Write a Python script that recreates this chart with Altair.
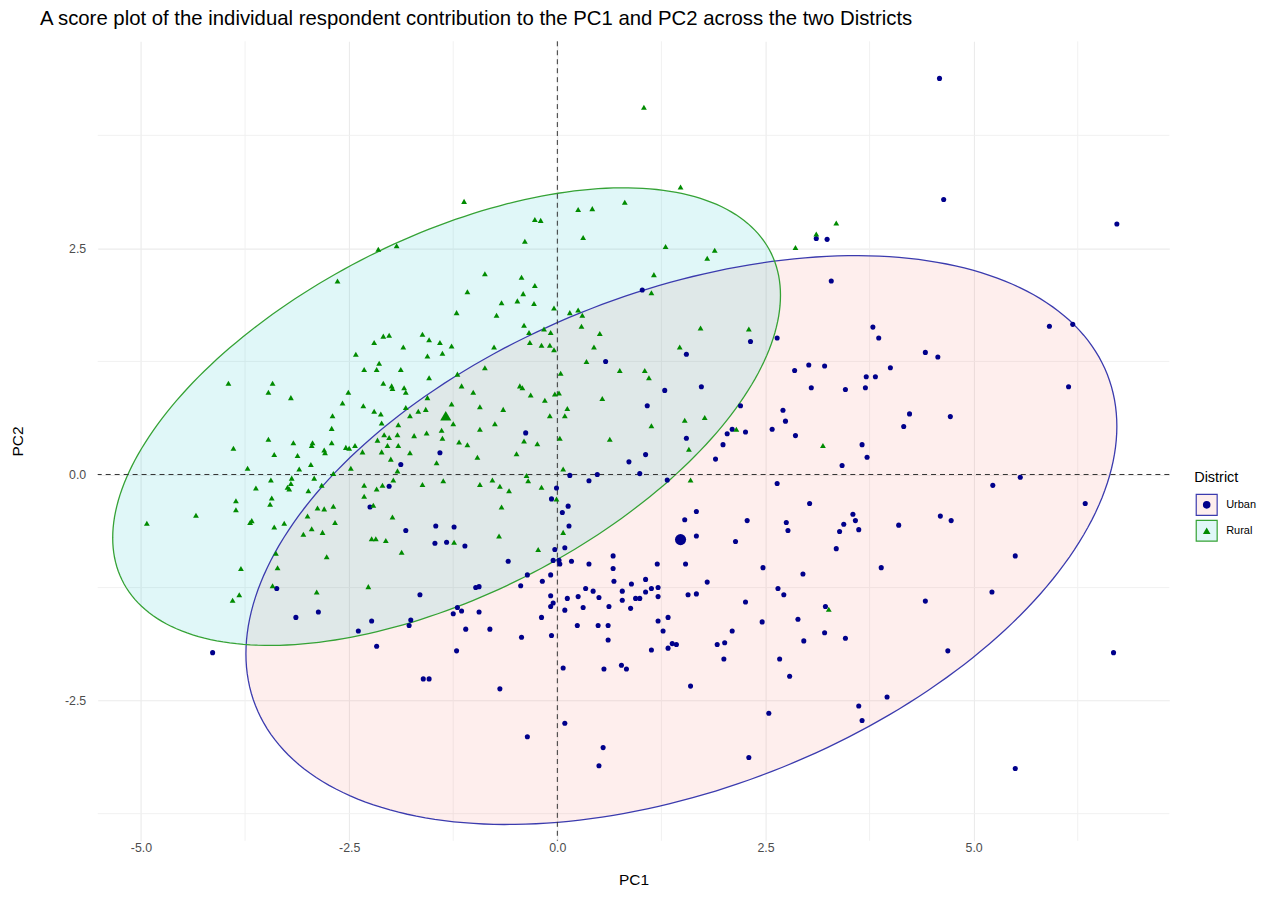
import altair as alt
import numpy as np
import pandas as pd

# ---------------- data ----------------
districts = ["Urban", "Rural"]

urban_x = [1.02, 3.11, 3.24, 3.29, 4.59, 4.64, 6.72,
           0.58, -0.38, -1.41, -1.88, -2.02, -2.25, 0.86, 0.15, 0.48, 0.38, -0.01, -0.07, 0.13, 0.06, 0.14,
           -1.82, -1.46, -1.24, -1.47, -1.33, -1.11, -0.03, 0.09, -0.59, -0.05, 0.02, 0.17, 0.38, 0.67, 0.67, 0.03,
           2.32, 2.64, 1.55, 1.73, 1.29, 1.08, 2.20, 3.79, 3.86, 3.02, 3.21, 2.85, 4.00, 3.71, 3.82, 3.05, 3.46, 3.70,
           2.71, 2.74, 2.58, 2.86, 2.26, 2.10, 2.04, 1.99, 1.90, 1.55, 1.06, 0.99, 1.32, 3.66, 3.72, 3.42, 4.16, 2.64,
           3.03, 1.67, 1.53, 2.28, 2.75, 2.77, 1.67, 2.14, 3.55, 3.44, 3.58, 3.62, 3.39, 3.35, 4.10, 1.20, 1.54, 2.47, 3.89,
           5.91, 6.19, 4.42, 4.57, 6.14, 4.23, 4.72, 5.23, 5.56, 6.34, 4.60, 4.73, 5.50,
           -3.37, -3.14, -2.87, -2.39, -4.14,
           -0.36, -0.08, -0.18, -0.44, -0.98, -0.94, -1.65, -0.08, -0.05, -0.08, -1.20, -1.25, -1.15, -0.94, -0.19,
           -1.76, -1.78, -2.23, -1.10, -0.81, -0.43, -0.07, -2.17, -1.21, -1.61, -1.54, -0.69, -0.36, 0.07, 0.09, 0.55,
           0.50, 0.56, 0.77, 0.83, 0.12, 0.09, 0.25, 0.34, 0.43, 0.50, 0.31, 0.62, 0.24, 0.49, 0.61, 0.61, 0.68, 0.89,
           0.78, 0.78, 0.88, 0.94,
           2.95, 1.06, 1.80, 1.06, 1.13, 1.21, 1.21, 0.99, 1.57, 1.67, 2.65, 2.72, 2.26, 3.22, 1.21, 1.33, 1.27, 2.46,
           2.89, 2.10, 3.21, 3.46, 2.96, 1.13, 1.33, 1.38, 1.43, 1.92, 2.01, 2.00, 2.67, 2.79, 1.60, 2.54, 2.30, 3.62,
           3.66, 3.96,
           4.42, 5.22, 4.69, 6.68, 5.50]
urban_y = [2.04, 2.61, 2.60, 2.14, 4.38, 3.04, 2.77,
           1.25, 0.46, 0.24, 0.11, -0.13, -0.36, 0.14, -0.01, 0.00, -0.07, -0.15, -0.27, -0.35, -0.42, -0.57,
           -0.62, -0.57, -0.58, -0.76, -0.75, -0.79, -0.83, -0.81, -0.96, -0.95, -0.95, -0.96, -0.99, -0.90, -1.04, -0.99,
           1.47, 1.51, 1.33, 0.97, 0.93, 0.76, 0.76, 1.63, 1.51, 1.21, 1.20, 1.15, 1.18, 1.08, 1.08, 0.96, 0.94, 0.96,
           0.71, 0.59, 0.50, 0.43, 0.47, 0.50, 0.45, 0.33, 0.17, 0.40, 0.22, 0.01, -0.06, 0.33, 0.19, 0.10, 0.53, -0.10,
           -0.32, -0.41, -0.50, -0.51, -0.53, -0.62, -0.68, -0.74, -0.44, -0.55, -0.51, -0.61, -0.63, -0.82, -0.56, -0.99,
           -0.99, -1.03, -1.03,
           1.64, 1.66, 1.35, 1.30, 0.97, 0.67, 0.64, -0.12, -0.03, -0.32, -0.46, -0.51, -0.90,
           -1.26, -1.58, -1.52, -1.73, -1.97,
           -1.11, -1.11, -1.18, -1.23, -1.25, -1.24, -1.33, -1.34, -1.42, -1.46, -1.47, -1.54, -1.51, -1.52, -1.58,
           -1.61, -1.67, -1.62, -1.71, -1.71, -1.80, -1.78, -1.90, -1.95, -2.26, -2.26, -2.37, -2.90, -2.14, -2.75, -3.02,
           -3.22, -2.15, -2.11, -2.15, -1.37, -1.50, -1.35, -1.26, -1.29, -1.36, -1.47, -1.46, -1.67, -1.67, -1.67, -1.83,
           -1.18, -1.21, -1.29, -1.39, -1.48, -1.37,
           -1.10, -1.16, -1.19, -1.30, -1.26, -1.25, -1.35, -1.37, -1.33, -1.32, -1.26, -1.33, -1.41, -1.46, -1.62, -1.58,
           -1.73, -1.63, -1.60, -1.73, -1.75, -1.81, -1.84, -1.94, -1.92, -1.87, -1.88, -1.88, -1.86, -2.04, -2.04, -2.23,
           -2.34, -2.64, -3.13, -2.56, -2.72, -2.46,
           -1.40, -1.30, -1.95, -1.97, -3.25]

rural_x = [-2.64,
           -1.12, -2.15, -1.93, -0.27, -0.20, 0.25, 0.42, 0.81, 0.31, -0.39, -0.87, -0.43, -0.27, -1.08, -0.41,
           1.04, 1.48, 3.35, 3.11, 2.86, 1.30, 1.89, 1.80, 1.16, 1.13,
           -2.42, -2.32, -3.95, -3.42, -3.47, -3.20, -2.51, -2.58, -2.33, -2.70, -2.71, -3.47, -3.89, -3.17, -2.94,
           -2.95, -2.71, -3.40, -3.12, -2.80, -2.79, -2.54, -2.50, -2.43, -2.34, -2.96, -3.10, -3.72, -2.48, -2.69,
           -2.92, -3.19, -3.44, -3.20, -3.24, -3.22, -3.62, -2.99, -2.83, -2.32, -2.32, -3.43, -3.45, -3.86, -3.86,
           -4.34, -4.93, -3.67, -3.69, -3.40, -3.28, -3.00, -2.88, -2.80, -2.69, -2.95, -3.05, -2.82, -2.67, -3.38,
           -2.77, -3.36, -3.80,
           -0.48, -0.67, -0.28, -0.04, -1.21, -0.73, 0.15, 0.25, 0.30, -0.40, -0.16, 0.29, 0.51, -0.34, -0.08, -2.09,
           -2.02, -2.20, -1.62, -1.54, -1.41, -1.27, -1.85, -1.38, -1.56, -0.76, -0.33, -0.19, -0.09, -0.04, 0.44, 0.35,
           0.75, -2.14, -2.17, -1.88, -1.54, -0.87, -1.20, -2.09, -1.99, -1.98, -1.84, -1.82, -1.15, -1.01, -0.45, -0.42,
           -0.32, -0.15, 0.02, -0.03, 0.04, 0.54, -1.56, -1.27, -0.93, -0.65, 0.12, 0.09, -0.09, -2.20, -2.12, -1.77,
           -1.67, -1.58, -1.82, -1.91, -2.11, -1.25, -0.75, -1.39, -1.38, -1.57, -1.72, -1.92, -0.93, -2.08, -2.02, -2.16,
           -2.04, -1.91, -1.18, -1.08, -0.40, -0.24, 0.03, 0.63, -2.11, -1.77, -2.00, -1.45, -0.96, -0.49, -1.92, 0.07,
           -0.37, -0.35, -1.97, -1.37, -1.62, -0.93, -0.78, -0.69, -0.58, -0.19, -2.10, -2.17, -2.21, -0.67, -1.98, -2.23,
           -2.18, -2.06, -1.87, -1.24, -0.70, -0.23, 0.07, -0.01,
           1.72, 2.30, 1.47, 1.05, 1.10, 1.13, 1.53, 1.77, 1.58, 2.15, 3.19, 1.60,
           -3.82, -3.90, -3.42, -2.89, -2.27,
           3.26]
rural_y = [2.14,
           3.02, 2.49, 2.53, 2.82, 2.81, 2.93, 2.94, 3.01, 2.62, 2.58, 2.22, 2.18, 2.09, 2.02, 2.00,
           4.06, 3.18, 2.78, 2.66, 2.51, 2.52, 2.48, 2.39, 2.21, 2.01,
           1.33, 1.16, 1.01, 1.01, 0.91, 0.85, 0.91, 0.79, 0.76, 0.65, 0.51, 0.39, 0.29, 0.35, 0.35,
           0.32, 0.35, 0.22, 0.21, 0.27, 0.24, 0.30, 0.29, 0.32, 0.25, 0.11, 0.06, 0.07, 0.07, 0.01,
           -0.04, -0.04, -0.06, -0.10, -0.14, -0.16, -0.15, -0.18, -0.12, -0.12, -0.24, -0.26, -0.33, -0.29, -0.39,
           -0.45, -0.54, -0.51, -0.53, -0.58, -0.54, -0.46, -0.37, -0.38, -0.35, -0.60, -0.66, -0.64, -0.53, -0.87,
           -0.91, -1.03, -1.04,
           1.92, 1.90, 1.89, 1.84, 1.79, 1.76, 1.79, 1.82, 1.76, 1.65, 1.61, 1.64, 1.56, 1.57, 1.57, 1.53,
           1.54, 1.46, 1.55, 1.49, 1.46, 1.42, 1.41, 1.34, 1.31, 1.41, 1.46, 1.43, 1.43, 1.38, 1.41, 1.25,
           1.15, 1.23, 1.16, 1.16, 1.07, 1.18, 1.11, 1.01, 0.98, 0.95, 0.96, 0.91, 0.98, 0.91, 0.98, 0.96,
           0.88, 0.82, 0.90, 0.89, 1.12, 0.84, 0.85, 0.78, 0.75, 0.72, 0.73, 0.65, 0.65, 0.70, 0.67, 0.65,
           0.70, 0.72, 0.74, 0.55, 0.57, 0.56, 0.56, 0.49, 0.40, 0.46, 0.43, 0.44, 0.50, 0.44, 0.41, 0.38,
           0.32, 0.32, 0.36, 0.33, 0.37, 0.34, 0.40, 0.39, 0.25, 0.24, 0.17, 0.13, 0.19, 0.23, 0.04, 0.06,
           -0.01, -0.07, -0.06, -0.07, -0.11, -0.11, -0.06, -0.13, -0.18, -0.14, -0.12, -0.16, -0.34, -0.36, -0.47, -0.71,
           -0.71, -0.73, -0.86, -0.75, -0.68, -0.83, -0.64, -0.27,
           1.62, 1.61, 1.41, 1.15, 1.07, 0.54, 0.60, 0.63, 0.28, 0.50, 0.32, -0.06,
           -1.33, -1.39, -1.23, -1.30, -1.24,
           -1.49]

# group mean points (large symbols)
centroid_x = [1.48, -1.34]
centroid_y = [-0.72, 0.65]

# concentration ellipses: centre, spread along PC1 / PC2, correlation
ell_cx = [1.49, -1.33]
ell_cy = [-0.725, 0.64]
ell_sx = [5.23, 4.01]
ell_sy = [3.145, 2.53]
ell_rho = [0.40, 0.53]

x_major = [-5.0, -2.5, 0.0, 2.5, 5.0]
y_major = [-2.5, 0.0, 2.5]
x_minor = [-3.75, -1.25, 1.25, 3.75, 6.25]
y_minor = [-3.75, -1.25, 1.25, 3.75]
x_domain = [-5.52, 7.35]
y_domain = [-4.05, 4.79]

point_colors = ["#00008B", "#008B00"]
point_shapes = ["circle", "triangle-up"]
point_sizes = [26, 34]
line_colors = ["#3B3BAE", "#35A235"]
fill_colors = ["#F8766D", "#00BFC4"]
key_fills = ["#FDEEED", "#E0F7F8"]
FONT = "Liberation Sans"

# ---------------- tables ----------------
pts = pd.concat([
    pd.DataFrame({"PC1": urban_x, "PC2": urban_y, "District": "Urban"}),
    pd.DataFrame({"PC1": rural_x, "PC2": rural_y, "District": "Rural"}),
], ignore_index=True)
cent = pd.DataFrame({"PC1": centroid_x, "PC2": centroid_y, "District": districts})

xs = alt.Scale(domain=x_domain, nice=False, zero=False)
ys = alt.Scale(domain=y_domain, nice=False, zero=False)

t_full = np.linspace(0, 2 * np.pi, 241)
t_half = np.linspace(0, np.pi, 181)

layers = []
# minor grid
layers.append(alt.Chart(pd.DataFrame({"v": x_minor})).mark_rule(color="#EFEFEF", strokeWidth=0.9).encode(
    x=alt.X("v:Q", scale=xs)))
layers.append(alt.Chart(pd.DataFrame({"v": y_minor})).mark_rule(color="#EFEFEF", strokeWidth=0.9).encode(
    y=alt.Y("v:Q", scale=ys)))

outline_layers = []
for i, d in enumerate(districts):
    cx, cy, sx, sy, r = ell_cx[i], ell_cy[i], ell_sx[i], ell_sy[i], ell_rho[i]
    q = np.sqrt(1 - r * r)
    area_df = pd.DataFrame({
        "x": cx + sx * np.cos(t_half),
        "ylo": cy + sy * (r * np.cos(t_half) - q * np.sin(t_half)),
        "yhi": cy + sy * (r * np.cos(t_half) + q * np.sin(t_half)),
    })
    layers.append(alt.Chart(area_df).mark_area(color=fill_colors[i], opacity=0.12, clip=True).encode(
        x=alt.X("x:Q", scale=xs), y=alt.Y("ylo:Q", scale=ys, stack=None), y2="yhi:Q"))
    line_df = pd.DataFrame({
        "x": cx + sx * np.cos(t_full),
        "y": cy + sy * (r * np.cos(t_full) + q * np.sin(t_full)),
        "o": np.arange(len(t_full)),
    })
    outline_layers.append(alt.Chart(line_df).mark_line(color=line_colors[i], strokeWidth=1.3, clip=True).encode(
        x=alt.X("x:Q", scale=xs), y=alt.Y("y:Q", scale=ys), order="o:Q"))
layers += outline_layers

# dashed reference lines
layers.append(alt.Chart(pd.DataFrame({"v": [0.0]})).mark_rule(color="#333333", strokeDash=[5, 4], strokeWidth=1).encode(
    x=alt.X("v:Q", scale=xs)))
layers.append(alt.Chart(pd.DataFrame({"v": [0.0]})).mark_rule(color="#333333", strokeDash=[5, 4], strokeWidth=1).encode(
    y=alt.Y("v:Q", scale=ys)))

color_scale = alt.Scale(domain=districts, range=point_colors)
shape_scale = alt.Scale(domain=districts, range=point_shapes)
size_scale = alt.Scale(domain=districts, range=point_sizes)

axis_lab = "replace(format(datum.value, '.1f'), '\u2212', '-')"
points = alt.Chart(pts).mark_point(filled=True, opacity=1).encode(
    x=alt.X("PC1:Q", scale=xs, title="PC1", axis=alt.Axis(values=x_major, labelExpr=axis_lab)),
    y=alt.Y("PC2:Q", scale=ys, title="PC2", axis=alt.Axis(values=y_major, labelExpr=axis_lab)),
    color=alt.Color("District:N", scale=color_scale, legend=None),
    shape=alt.Shape("District:N", scale=shape_scale, legend=None),
    size=alt.Size("District:N", scale=size_scale, legend=None),
)
centroids = alt.Chart(cent).mark_point(filled=True, opacity=1, size=125).encode(
    x=alt.X("PC1:Q", scale=xs), y=alt.Y("PC2:Q", scale=ys),
    color=alt.Color("District:N", scale=color_scale, legend=None),
    shape=alt.Shape("District:N", scale=shape_scale, legend=None),
)
layers += [points, centroids]

# ---------------- legend (ggplot-style keys: box + symbol) ----------------
LEG_LEFT, LEG_TITLE_Y, KEY_Y0, KEY_GAP = 1100, 438, 465, 26
one = pd.DataFrame({"k": [0]})
layers.append(alt.Chart(one).mark_text(
    text="District", align="left", baseline="middle", font=FONT, fontSize=14.5, color="#000000").encode(
    x=alt.value(LEG_LEFT), y=alt.value(LEG_TITLE_Y)))
for i, d in enumerate(districts):
    yk = KEY_Y0 + i * KEY_GAP
    layers.append(alt.Chart(one).mark_square(
        size=441, fill=key_fills[i], stroke=line_colors[i], strokeWidth=1.2, opacity=1).encode(
        x=alt.value(LEG_LEFT + 12.5), y=alt.value(yk)))
    layers.append(alt.Chart(one).mark_point(
        shape=point_shapes[i], filled=True, color=point_colors[i], opacity=1, size=58).encode(
        x=alt.value(LEG_LEFT + 12.5), y=alt.value(yk)))
    layers.append(alt.Chart(one).mark_text(
        text=d, align="left", baseline="middle", font=FONT, fontSize=11, color="#000000").encode(
        x=alt.value(LEG_LEFT + 32), y=alt.value(yk)))

chart = alt.layer(*layers).properties(
    width=1075, height=802,
    autosize=alt.AutoSizeParams(type="none"),
    padding={"left": 90, "top": 32, "right": 100, "bottom": 55},
    title=alt.TitleParams(
        "A score plot of the individual respondent contribution to the PC1 and PC2 across the two Districts",
        anchor="start", frame="group", dx=-58, offset=11, fontSize=20.4, fontWeight="normal", font=FONT,
        color="#000000"),
).configure_view(stroke=None).configure_axis(
    grid=True, gridColor="#EBEBEB", gridWidth=1.1, domain=False, ticks=False,
    labelFont=FONT, labelFontSize=12.4, labelColor="#4D4D4D",
    titleFont=FONT, titleFontSize=15.5, titleFontWeight="normal", titleColor="#000000",
).configure_axisX(labelPadding=1, titlePadding=18).configure_axisY(labelPadding=12, titlePadding=39)

chart.save("out.html", embed_options={"renderer": "svg", "actions": False})
